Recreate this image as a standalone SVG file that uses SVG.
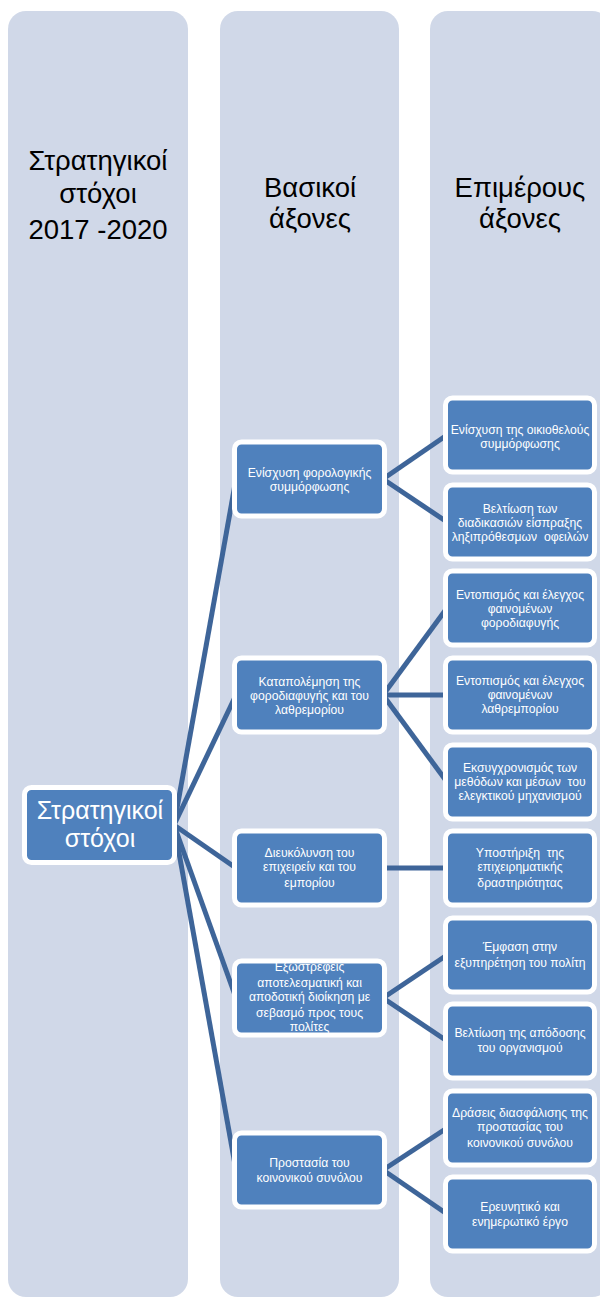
<svg xmlns="http://www.w3.org/2000/svg" width="600" height="1298" viewBox="0 0 600 1298">
<style>
.col{fill:#D0D8E8}
.hd{font-family:"Liberation Sans",Arial,sans-serif;font-size:27.5px;fill:#000;text-anchor:middle}
.box{fill:#4F81BD;stroke:#FFFFFF;stroke-width:5}
.t{font-family:"Liberation Sans",Arial,sans-serif;font-size:12.2px;fill:#FFFFFF;text-anchor:middle;white-space:pre}
.rt{font-family:"Liberation Sans",Arial,sans-serif;font-size:25px;fill:#FFFFFF;text-anchor:middle}
.c{stroke:#3E6599;stroke-width:5;fill:none}
</style>
<g id="columns">
<rect class="col" x="8" y="11" width="180" height="1286" rx="18"/>
<rect class="col" x="220" y="11" width="179" height="1286" rx="18"/>
<rect class="col" x="430" y="11" width="180" height="1286" rx="18"/>
</g>
<g id="headers">
<text class="hd" x="98" y="170">Στρατηγικοί</text>
<text class="hd" x="98" y="203">στόχοι</text>
<text class="hd" x="98" y="239">2017 -2020</text>
<text class="hd" x="310" y="197">Βασικοί</text>
<text class="hd" x="310" y="228">άξονες</text>
<text class="hd" x="520" y="197">Επιμέρους</text>
<text class="hd" x="520" y="228">άξονες</text>
</g>
<g id="connectors">
<line class="c" x1="174" y1="825" x2="236" y2="479"/>
<line class="c" x1="174" y1="825" x2="236" y2="695"/>
<line class="c" x1="174" y1="825" x2="236" y2="868"/>
<line class="c" x1="174" y1="825" x2="236" y2="998"/>
<line class="c" x1="174" y1="825" x2="236" y2="1170"/>
<line class="c" x1="383" y1="479" x2="447" y2="435"/>
<line class="c" x1="383" y1="479" x2="447" y2="522"/>
<line class="c" x1="383" y1="695" x2="447" y2="608"/>
<line class="c" x1="383" y1="695" x2="447" y2="695"/>
<line class="c" x1="383" y1="695" x2="447" y2="782"/>
<line class="c" x1="383" y1="868" x2="447" y2="868"/>
<line class="c" x1="383" y1="998" x2="447" y2="955"/>
<line class="c" x1="383" y1="998" x2="447" y2="1041"/>
<line class="c" x1="383" y1="1170" x2="447" y2="1128"/>
<line class="c" x1="383" y1="1170" x2="447" y2="1214"/>
</g>
<g id="root">
<rect class="box" x="24.5" y="787.5" width="150" height="75" rx="7"/>
<text class="rt" x="100" y="819">Στρατηγικοί</text>
<text class="rt" x="100" y="847">στόχοι</text>
</g>
<g id="m1">
<rect class="box" x="234.5" y="442" width="150" height="74" rx="7"/>
<text class="t" x="309.5" y="477">Ενίσχυση φορολογικής</text>
<text class="t" x="309.5" y="491">συμμόρφωσης</text>
</g>
<g id="m2">
<rect class="box" x="234.5" y="658" width="150" height="74" rx="7"/>
<text class="t" x="309.5" y="686">Καταπολέμηση της</text>
<text class="t" x="309.5" y="700">φοροδιαφυγής και του</text>
<text class="t" x="309.5" y="714">λαθρεμορίου</text>
</g>
<g id="m3">
<rect class="box" x="234.5" y="831" width="150" height="74" rx="7"/>
<text class="t" x="309.5" y="857">Διευκόλυνση του</text>
<text class="t" x="309.5" y="871">επιχειρείν και του</text>
<text class="t" x="309.5" y="887">εμπορίου</text>
</g>
<g id="m4">
<rect class="box" x="234.5" y="961" width="150" height="74" rx="7"/>
<text class="t" x="309.5" y="971">Εξωστρεφείς</text>
<text class="t" x="309.5" y="987">αποτελεσματική και</text>
<text class="t" x="309.5" y="1001">αποδοτική διοίκηση με</text>
<text class="t" x="309.5" y="1017">σεβασμό προς τους</text>
<text class="t" x="309.5" y="1031">πολίτες</text>
</g>
<g id="m5">
<rect class="box" x="234.5" y="1133" width="150" height="74" rx="7"/>
<text class="t" x="309.5" y="1167">Προστασία του</text>
<text class="t" x="309.5" y="1182">κοινονικού συνόλου</text>
</g>
<g id="r1">
<rect class="box" x="445.5" y="398" width="149" height="74" rx="7"/>
<text class="t" x="520" y="434">Ενίσχυση της οικιοθελούς</text>
<text class="t" x="520" y="448">συμμόρφωσης</text>
</g>
<g id="r2">
<rect class="box" x="445.5" y="485" width="149" height="74" rx="7"/>
<text class="t" x="520" y="513">Βελτίωση των</text>
<text class="t" x="520" y="527">διαδικασιών είσπραξης</text>
<text class="t" x="520" y="541">ληξιπρόθεσμων  οφειλών</text>
</g>
<g id="r3">
<rect class="box" x="445.5" y="571" width="149" height="74" rx="7"/>
<text class="t" x="520" y="599">Εντοπισμός και έλεγχος</text>
<text class="t" x="520" y="613">φαινομένων</text>
<text class="t" x="520" y="627">φοροδιαφυγής</text>
</g>
<g id="r4">
<rect class="box" x="445.5" y="658" width="149" height="74" rx="7"/>
<text class="t" x="520" y="685">Εντοπισμός και έλεγχος</text>
<text class="t" x="520" y="699">φαινομένων</text>
<text class="t" x="520" y="713">λαθρεμπορίου</text>
</g>
<g id="r5">
<rect class="box" x="445.5" y="745" width="149" height="74" rx="7"/>
<text class="t" x="520" y="772">Εκσυγχρονισμός των</text>
<text class="t" x="520" y="786">μεθόδων και μέσων  του</text>
<text class="t" x="520" y="800">ελεγκτικού μηχανισμού</text>
</g>
<g id="r6">
<rect class="box" x="445.5" y="831" width="149" height="74" rx="7"/>
<text class="t" x="520" y="857">Υποστήριξη  της</text>
<text class="t" x="520" y="871">επιχειρηματικής</text>
<text class="t" x="520" y="887">δραστηριότητας</text>
</g>
<g id="r7">
<rect class="box" x="445.5" y="918" width="149" height="74" rx="7"/>
<text class="t" x="520" y="951">Έμφαση στην</text>
<text class="t" x="520" y="967">εξυπηρέτηση του πολίτη</text>
</g>
<g id="r8">
<rect class="box" x="445.5" y="1004" width="149" height="74" rx="7"/>
<text class="t" x="520" y="1037">Βελτίωση της απόδοσης</text>
<text class="t" x="520" y="1052">του οργανισμού</text>
</g>
<g id="r9">
<rect class="box" x="445.5" y="1091" width="149" height="74" rx="7"/>
<text class="t" x="520" y="1117">Δράσεις διασφάλισης της</text>
<text class="t" x="520" y="1131">προστασίας του</text>
<text class="t" x="520" y="1147">κοινονικού συνόλου</text>
</g>
<g id="r10">
<rect class="box" x="445.5" y="1177" width="149" height="74" rx="7"/>
<text class="t" x="520" y="1211">Ερευνητικό και</text>
<text class="t" x="520" y="1226">ενημερωτικό έργο</text>
</g>
</svg>
